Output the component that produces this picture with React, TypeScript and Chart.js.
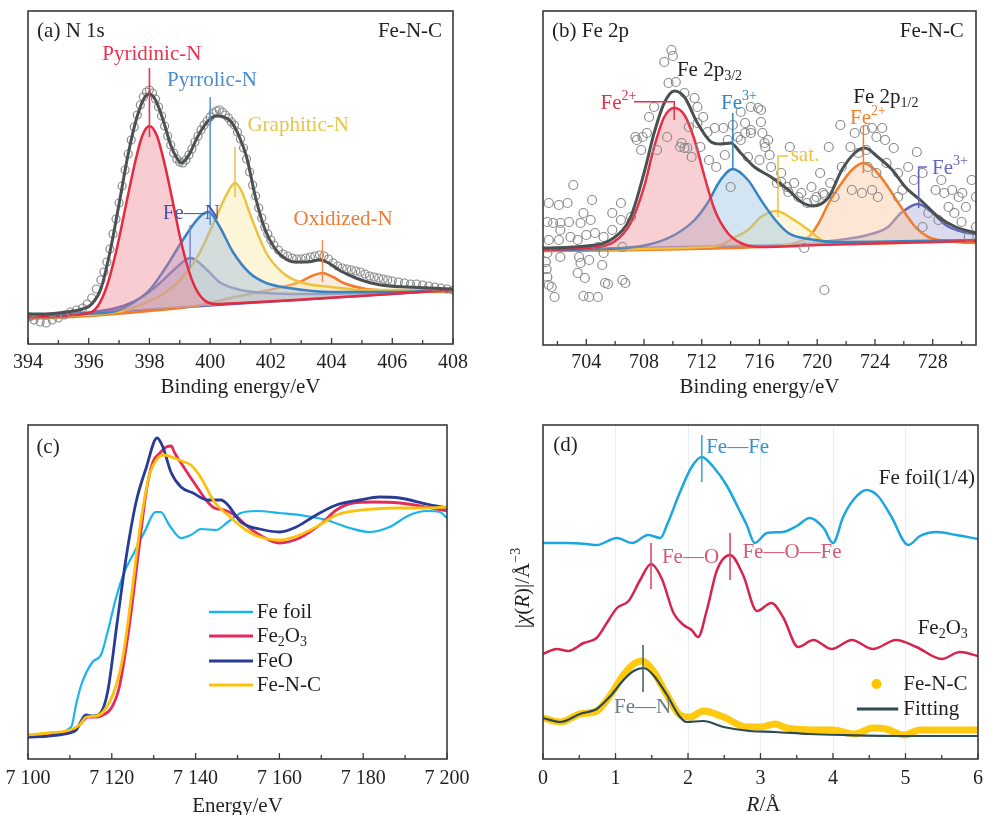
import React, { useEffect, useRef } from 'react';
import { Chart, registerables } from 'chart.js';

Chart.register(...registerables);

const FONT = "'Liberation Serif', 'Times New Roman', Times, serif";
const INK = '#231f20';
Chart.defaults.font.family = FONT;

type Pt = [number, number];

// ================= Panel (a): N 1s =================
const A_TICKS = [394, 396, 398, 400, 402, 404, 406, 408];
const A_TICK_LABELS = ['394', '396', '398', '400', '402', '404', '406', '408'];
const A_MINOR = [395, 397, 399, 401, 403, 405, 407];

const A_ENVELOPE: Pt[] = [[394,30],[394.5,30],[395,31],[395.5,33],[395.8,35],[396.1,40],[396.4,55],[396.7,92],[397.0,140],[397.3,190],[397.6,228],[397.85,247],[398.0,250],[398.2,244],[398.45,224],[398.7,199],[398.9,186],[399.05,181],[399.3,189],[399.6,208],[399.9,222],[400.2,228],[400.45,227],[400.7,222],[400.95,208],[401.2,187],[401.5,146],[401.8,115],[402.1,97],[402.4,87],[402.8,82],[403.2,82],[403.6,84],[403.9,81],[404.3,73],[404.8,66],[405.3,61],[405.9,58],[406.5,57],[407.2,56],[408,55]];

const A_DATA: Pt[] = [[394.05,27],[394.2,24],[394.4,22],[394.6,21],[394.8,24],[395.0,26],[395.2,29],[395.4,32],[395.6,34],[395.8,36],[395.95,40],[396.1,46],[396.25,55],[396.4,64],[396.5,72],[396.6,82],[396.7,95],[396.8,110],[396.9,125],[397.0,141],[397.1,158],[397.2,174],[397.3,190],[397.4,204],[397.5,217],[397.6,229],[397.7,239],[397.8,247],[397.9,252],[398.0,254],[398.1,251],[398.2,245],[398.3,237],[398.4,228],[398.5,218],[398.6,208],[398.7,199],[398.8,191],[398.9,185],[399.0,182],[399.1,181],[399.2,184],[399.3,189],[399.4,195],[399.5,202],[399.6,208],[399.7,214],[399.8,219],[399.9,223],[400.0,227],[400.1,231],[400.2,233],[400.3,234],[400.4,232],[400.5,229],[400.6,226],[400.7,222],[400.8,219],[400.9,212],[401.0,205],[401.1,196],[401.2,185],[401.3,172],[401.4,159],[401.5,148],[401.6,136],[401.7,126],[401.8,117],[401.9,110],[402.0,104],[402.1,99],[402.25,94],[402.4,90],[402.55,88],[402.7,86],[402.85,85],[403.0,85],[403.15,86],[403.3,87],[403.45,88],[403.6,89],[403.75,88],[403.9,85],[404.05,81],[404.2,78],[404.35,76],[404.5,75],[404.65,74],[404.8,73],[404.95,72],[405.1,70],[405.25,68],[405.4,67],[405.55,66],[405.7,65],[405.85,64],[406.0,63],[406.2,62],[406.4,61],[406.6,60],[406.8,60],[407.0,59],[407.2,58],[407.4,57],[407.6,56],[407.8,55],[408.0,54]];

const A_PYRIDINIC: Pt[] = [[394,27],[396.0,31],[396.3,38],[396.6,58],[396.9,92],[397.2,135],[397.5,178],[397.75,207],[398.0,218],[398.25,208],[398.5,180],[398.75,145],[399.0,108],[399.25,78],[399.5,57],[399.8,44],[400.2,40],[401,41],[408,54]];
const A_PYRROLIC: Pt[] = [[394,27],[396,30.5],[396.9,33],[397.5,42],[398.0,54],[398.55,77],[399.1,104],[399.65,127],[399.95,132],[400.3,118],[400.75,92],[401.3,71],[401.85,61],[402.6,56],[404.0,52],[406,52],[408,54]];
const A_GRAPHITIC: Pt[] = [[394,27],[396.9,32],[397.7,39],[398.55,52],[399.1,67],[399.65,91],[400.2,127],[400.55,150],[400.82,161],[401.05,152],[401.3,131],[401.85,91],[402.4,71],[402.95,62],[404.0,57],[405.15,54],[408,54]];
const A_FEN: Pt[] = [[394,27],[396.9,36],[397.7,46],[398.35,61],[398.8,74],[399.35,86],[399.9,74],[400.3,62],[401.0,54],[401.85,51],[403,50],[408,54]];
const A_OXIDIZED: Pt[] = [[394,25],[396,28],[398,33],[399.5,38],[400.8,47],[402.1,55],[402.95,62],[403.35,68],[403.7,71],[404.05,67],[404.4,61],[405.15,55],[406.3,53],[408,52]];
const A_BASELINE: Pt[] = [[394,27],[408,54]];

// ================= Panel (b): Fe 2p =================
const B_TICKS = [704, 708, 712, 716, 720, 724, 728];
const B_TICK_LABELS = ['704', '708', '712', '716', '720', '724', '728'];
const B_MINOR = [702, 706, 710, 714, 718, 722, 726, 730];

const B_ENVELOPE: Pt[] = [[701,97],[704,99],[705.9,107],[707.07,128],[708,172],[708.7,212],[709.4,242],[710.1,254],[710.8,248],[711.7,222],[712.65,203],[713.3,201],[714.0,202],[714.7,192],[715.65,178],[716.8,168],[718,155],[718.9,143],[719.7,139],[720.8,148],[721.7,175],[722.6,192],[723.3,197],[724.2,188],[725.2,175],[726.1,158],[727.3,143],[728.4,128],[729.6,118],[731,112]];

const B_DATA: Pt[] = [[701.2,83],[701.3,68],[701.25,76],[701.4,60],[701.8,48],[701.6,58],[701.3,92],[702.2,88],[701.4,105],[702.1,105],[702.9,108],[702.2,115],[701.3,123],[701.7,122],[702.2,122],[702.8,123],[701.4,142],[702.1,140],[702.7,142],[703.1,160],[703.4,72],[703.9,67],[704.2,48],[704.8,48],[703.5,88],[704.2,85],[703.4,105],[704.0,110],[704.6,112],[705.2,108],[703.6,122],[704.3,125],[703.8,132],[704.4,145],[705.8,115],[706.4,142],[706.4,125],[705.8,132],[707.1,128],[706.5,98],[704.8,98],[705.2,92],[705.3,62],[706.5,65],[703.8,49],[705.5,61],[706.7,62],[703.6,82],[705.1,80],[707.4,208],[707.9,208],[707.8,195],[707.5,205],[708.2,212],[708.35,228],[708.7,238],[709.4,283],[709.9,295],[710.0,289],[709.7,262],[710.2,263],[710.8,252],[711.5,247],[711.7,238],[712.1,228],[711.7,222],[711.1,218],[708.9,195],[709.6,208],[710.6,202],[710.5,198],[710.8,197],[711.3,188],[711.0,197],[711.9,198],[712.4,213],[712.9,217],[713.5,217],[712.5,185],[713.6,190],[713.0,178],[713.8,205],[714.5,208],[715.0,212],[715.4,215],[714.7,233],[715.4,238],[715.9,237],[714.15,220],[715.0,222],[714.0,158],[716.1,235],[716.2,212],[716.4,198],[716.6,205],[716.8,178],[717.2,162],[717.5,172],[717.9,158],[718.1,198],[718.4,162],[718.9,152],[719.6,158],[719.95,148],[720.5,150],[720.9,162],[720.2,172],[720.8,198],[721.6,220],[722.3,198],[721.7,178],[722.6,212],[722.85,192],[723.3,215],[723.8,217],[724.1,208],[724.5,217],[724.7,205],[725.3,197],[723.4,195],[723.5,178],[724.1,172],[724.8,182],[722.4,155],[723.1,152],[723.8,155],[724.2,148],[725.6,172],[725.9,155],[726.3,178],[726.9,193],[726.7,165],[725.6,148],[727.3,172],[728.2,155],[728.8,152],[729.1,138],[729.8,148],[729.5,132],[730.3,138],[730.7,165],[731.0,148],[730.0,123],[731.0,118],[730.5,108],[727.7,132],[727.3,118],[728.4,125],[730.05,152],[729.35,155],[728.6,165],[720.5,55],[716.1,223],[715.4,212],[716.35,202],[714.7,205],[716.0,185],[715.2,188],[716.7,190],[717.5,163],[718.0,153],[718.7,148],[719.3,142],[719.8,145],[719.1,97],[720.4,152],[721.2,148]];

const B_FE2_RED: Pt[] = [[701,95],[704,97],[705.9,103],[707.07,122],[708,158],[708.7,198],[709.4,228],[710.1,237],[710.8,230],[711.5,205],[712.2,168],[712.9,135],[713.8,112],[714.7,102],[716.1,98],[720,100],[731,104]];
const B_FE3_BLUE: Pt[] = [[701,95],[705.2,96],[708.2,100],[710.1,110],[711.5,125],[712.4,142],[713.3,165],[714.15,176],[715.2,165],[716.1,145],[717.1,125],[718,112],[719.4,106],[721.4,103],[731,105]];
const B_SAT: Pt[] = [[701,95],[712,98],[713.3,100],[714.2,107],[715.2,115],[716.1,128],[717.17,134],[718.4,125],[719.4,115],[720.3,105],[721.5,101],[731,104]];
const B_FE2_ORANGE: Pt[] = [[701,94],[716,98],[719.4,108],[720.1,122],[720.8,142],[721.5,158],[722.4,175],[723.2,182],[724.0,175],[724.9,158],[725.8,138],[726.8,118],[727.7,108],[729.6,103],[731,102]];
const B_FE3_PURPLE: Pt[] = [[701,95],[718,100],[721.5,105],[723.5,110],[724.9,118],[725.8,132],[727.0,141],[728,132],[728.9,120],[730.1,113],[731,111]];
const B_BASELINE: Pt[] = [[701,95],[731,104]];

// ================= Panel (c): XANES =================
const C_TICKS = [7100, 7120, 7140, 7160, 7180, 7200];
const C_TICK_LABELS = ['7 100', '7 120', '7 140', '7 160', '7 180', '7 200'];
const C_MINOR = [7110, 7130, 7150, 7170, 7190];

const C_FE_FOIL: Pt[] = [[7100,24],[7105,25],[7110.3,32],[7111.5,55],[7112.7,74],[7115.4,97],[7117.4,104],[7119,127],[7121,161],[7123,187],[7125.4,207],[7127.8,227],[7130.5,247],[7131.7,247],[7133.7,234],[7136.5,221],[7138.9,224],[7141.3,230],[7144.9,229],[7147.7,237],[7150.8,246],[7154.5,248],[7160.1,246],[7166.4,243],[7171.2,239],[7176.8,231],[7181.6,227],[7186.3,232],[7191.1,244],[7195.1,248],[7198.3,247],[7200,241]];
const C_FE2O3: Pt[] = [[7100,22],[7105,25],[7110,27],[7112.3,34],[7114.3,42],[7116.3,42],[7117.9,44],[7119.9,51],[7121.8,72],[7124.2,134],[7126.2,201],[7128.2,267],[7129.8,297],[7131.5,306],[7133,312],[7134.2,313],[7134.9,307],[7137.3,291],[7140.5,271],[7142.9,257],[7144.5,251],[7146.9,249],[7149.3,244],[7152,234],[7155.3,224],[7160.1,216],[7164.8,221],[7169.6,234],[7173.6,249],[7177.6,256],[7182.3,257],[7188.7,256],[7195.1,252],[7200,248]];
const C_FEO: Pt[] = [[7100,22],[7105,23],[7110,26],[7111.5,29],[7113.8,44],[7115.5,43],[7117.1,45],[7119,67],[7121.2,134],[7123.4,201],[7125.8,257],[7128.2,291],[7130.8,321],[7132.2,312],[7134.1,287],[7136.5,272],[7139.4,266],[7142.9,259],[7146.1,259],[7147.7,254],[7150.8,237],[7155.3,230],[7160.1,227],[7164,232],[7168.8,244],[7173.6,254],[7179.2,259],[7183.9,262],[7188.7,261],[7195.1,255],[7200,251]];
const C_FENC: Pt[] = [[7100,24],[7105,26],[7110,29],[7112.3,34],[7113.9,42],[7116.3,43],[7117.9,47],[7120.5,67],[7122.6,101],[7124.8,167],[7126.8,234],[7129,284],[7131,301],[7132.5,304],[7134.9,301],[7137.3,297],[7138.9,294],[7141.3,281],[7144.5,257],[7147.7,244],[7152,229],[7155.3,222],[7160.1,219],[7164.8,224],[7169.6,234],[7173.6,244],[7177.6,248],[7182.3,250],[7188.7,251],[7195.1,251],[7200,252]];

// ================= Panel (d): FT-EXAFS =================
const D_TICKS = [0, 1, 2, 3, 4, 5, 6];
const D_TICK_LABELS = ['0', '1', '2', '3', '4', '5', '6'];
const D_MINOR = [0.5, 1.5, 2.5, 3.5, 4.5, 5.5];

const D_FE_FOIL: Pt[] = [[0,216],[0.33,216],[0.6,215],[0.74,214],[1.02,221],[1.23,216],[1.45,224],[1.62,221],[1.71,234],[1.89,267],[2.05,292],[2.19,302],[2.35,292],[2.53,274],[2.7,250],[2.81,234],[2.92,216],[3.09,226],[3.31,227],[3.5,233],[3.68,241],[3.87,231],[4.0,216],[4.14,242],[4.28,259],[4.46,269],[4.62,263],[4.8,243],[5.04,214],[5.2,223],[5.43,227],[5.7,224],[6,220]];
const D_FE2O3: Pt[] = [[0,105],[0.19,110],[0.35,108],[0.56,116],[0.74,121],[0.88,136],[1.02,151],[1.18,158],[1.34,179],[1.49,195],[1.64,180],[1.8,146],[1.94,134],[2.05,129],[2.14,122],[2.26,149],[2.4,189],[2.58,204],[2.76,184],[2.95,148],[3.15,156],[3.31,142],[3.52,112],[3.73,119],[3.98,110],[4.26,119],[4.55,110],[4.87,119],[5.15,112],[5.5,100],[5.75,107],[6,103]];
const D_FENC: Pt[] = [[0,41],[0.24,37],[0.51,45],[0.74,48],[0.93,64],[1.11,84],[1.25,95],[1.36,98],[1.52,88],[1.71,64],[1.89,44],[2.03,42],[2.21,48],[2.49,42],[2.81,32],[3.0,32],[3.2,35],[3.36,31],[3.73,29],[4.0,29],[4.3,25],[4.55,31],[4.73,30],[4.99,24],[5.2,29],[5.56,29],[6,29]];
const D_FIT: Pt[] = [[0,41],[0.24,37],[0.51,45],[0.74,50],[0.93,63],[1.11,79],[1.25,88],[1.39,91],[1.52,84],[1.71,64],[1.89,42],[1.98,37],[2.21,38],[2.49,32],[2.85,28],[3.2,27],[3.67,25],[4.14,24],[5.05,23],[6,23]];

// ================= helpers =================
type Part = { s: string; sub?: boolean; sup?: boolean; it?: boolean };
const T = (s: string): Part[] => [{ s }];

function drawRich(ctx: CanvasRenderingContext2D, parts: Part[], x: number, y: number, size: number, color: string, align: string) {
  const small = Math.round(size * 0.66);
  const fontOf = (p: Part) => `${p.it ? 'italic ' : ''}${p.sub || p.sup ? small : size}px ${FONT}`;
  const widths = parts.map((p) => { ctx.font = fontOf(p); return ctx.measureText(p.s).width; });
  const total = widths.reduce((a, b) => a + b, 0);
  let cx = align === 'center' ? x - total / 2 : align === 'right' ? x - total : x;
  ctx.fillStyle = color;
  ctx.textAlign = 'left';
  ctx.textBaseline = 'middle';
  parts.forEach((p, i) => {
    ctx.font = fontOf(p);
    const dy = p.sub ? size * 0.3 : p.sup ? -size * 0.3 : 0;
    ctx.fillText(p.s, cx, y + dy);
    cx += widths[i];
  });
}

function overlay(items: any[], major: number[], minor: number[], extra?: (chart: any) => void) {
  return {
    id: 'overlay',
    afterDraw(chart: any) {
      const { ctx, chartArea: ca } = chart;
      const xs = chart.scales.x, ys = chart.scales.y;
      const X = (v: number) => xs.getPixelForValue(v);
      const Y = (v: number) => ys.getPixelForValue(v);
      ctx.save();
      for (const it of items) {
        if (it.k === 'line') {
          ctx.beginPath();
          ctx.strokeStyle = it.color;
          ctx.lineWidth = it.w ?? 1.5;
          it.pts.forEach(([x, y]: Pt, i: number) => (i ? ctx.lineTo(X(x), Y(y)) : ctx.moveTo(X(x), Y(y))));
          ctx.stroke();
        } else if (it.k === 'dot') {
          ctx.beginPath();
          ctx.fillStyle = it.color;
          ctx.arc(X(it.x), Y(it.y), it.r, 0, Math.PI * 2);
          ctx.fill();
        } else {
          drawRich(ctx, it.parts, X(it.x), Y(it.y), it.size ?? 21, it.color, it.align ?? 'left');
        }
      }
      ctx.strokeStyle = '#3a3a3a';
      ctx.lineWidth = 1.6;
      ctx.strokeRect(ca.left, ca.top, ca.right - ca.left, ca.bottom - ca.top);
      ctx.lineWidth = 1.3;
      ctx.beginPath();
      for (const v of major) { const x = X(v); ctx.moveTo(x, ca.bottom); ctx.lineTo(x, ca.bottom - 6); }
      for (const v of minor) { const x = X(v); ctx.moveTo(x, ca.bottom); ctx.lineTo(x, ca.bottom - 4); }
      ctx.stroke();
      if (extra) extra(chart);
      ctx.restore();
    },
  };
}

const toXY = (a: Pt[]) => a.map(([x, y]) => ({ x, y }));
const line = (data: Pt[], color: string, width: number, extra: any = {}) => ({
  data: toXY(data), borderColor: color, borderWidth: width, pointRadius: 0,
  cubicInterpolationMode: 'monotone', fill: false, borderJoinStyle: 'round', ...extra,
});
const circles = (data: Pt[], color: string, r: number) => ({
  data: toXY(data), showLine: false, pointRadius: r, pointBorderColor: color,
  pointBackgroundColor: 'rgba(0,0,0,0)', pointBorderWidth: 1.2, borderColor: color, backgroundColor: 'rgba(0,0,0,0)',
});

function makeOptions(c: any) {
  return {
    responsive: false,
    maintainAspectRatio: false,
    animation: false,
    devicePixelRatio: 1,
    events: [],
    layout: { padding: { left: c.padL, top: c.padT, right: c.padR, bottom: 0 } },
    plugins: { legend: { display: false }, tooltip: { enabled: false } },
    scales: {
      x: {
        type: 'linear', min: c.xmin, max: c.xmax,
        afterBuildTicks: (axis: any) => { axis.ticks = c.ticks.map((v: number) => ({ value: v })); },
        afterFit: (axis: any) => { axis.height = c.xHeight; },
        grid: { display: !!c.grid, drawTicks: false, color: 'rgba(175,208,225,0.35)', lineWidth: 1 },
        border: { display: false },
        ticks: {
          autoSkip: false, maxRotation: 0, minRotation: 0, padding: c.tickPad, color: INK,
          font: { family: FONT, size: 20 }, callback: (_v: any, i: number) => c.labels[i],
        },
        title: c.title
          ? { display: true, text: c.title, color: INK, font: { family: FONT, size: 21 }, padding: { top: 0, bottom: c.titlePad } }
          : { display: false },
      },
      y: { type: 'linear', min: 0, max: c.ymax, display: false },
    },
  };
}

// ================= annotations =================
const A_ITEMS = [
  { k: 'text', x: 394.3, y: 313, parts: T('(a) N 1s'), color: INK },
  { k: 'text', x: 407.64, y: 313, parts: T('Fe-N-C'), color: INK, align: 'right' },
  { k: 'line', pts: [[398, 276], [398, 207]], color: '#e8344e', w: 1.6 },
  { k: 'line', pts: [[400, 247], [400, 119]], color: '#4a8cd0', w: 1.4 },
  { k: 'line', pts: [[400.82, 197], [400.82, 147]], color: '#e9c44a', w: 1.6 },
  { k: 'line', pts: [[399.34, 119], [399.34, 76]], color: '#7a7ec4', w: 1.4 },
  { k: 'line', pts: [[403.7, 104], [403.7, 62]], color: '#f48a4a', w: 1.4 },
  { k: 'text', x: 398.08, y: 290, parts: T('Pyridinic-N'), color: '#e8344e', align: 'center' },
  { k: 'text', x: 400.06, y: 264, parts: T('Pyrrolic-N'), color: '#4a8cd0', align: 'center' },
  { k: 'text', x: 402.9, y: 219, parts: T('Graphitic-N'), color: '#e9c44a', align: 'center' },
  { k: 'text', x: 404.38, y: 125, parts: T('Oxidized-N'), color: '#f27a35', align: 'center' },
  { k: 'text', x: 398.44, y: 131, parts: T('Fe\u2014N'), color: '#4b52b0' },
];

const B_ITEMS = [
  { k: 'text', x: 701.63, y: 314, parts: T('(b) Fe 2p'), color: INK },
  { k: 'text', x: 730.16, y: 314, parts: T('Fe-N-C'), color: INK, align: 'right' },
  { k: 'text', x: 710.28, y: 275, parts: [{ s: 'Fe 2p' }, { s: '3/2', sub: true }], color: INK },
  { k: 'text', x: 722.5, y: 248, parts: [{ s: 'Fe 2p' }, { s: '1/2', sub: true }], color: INK },
  { k: 'line', pts: [[707.3, 243.3], [710.09, 243.3], [710.09, 225]], color: '#e63046', w: 1.5 },
  { k: 'text', x: 704.99, y: 242, parts: [{ s: 'Fe' }, { s: '2+', sup: true }], color: '#e63046' },
  { k: 'line', pts: [[714.15, 232], [714.15, 177]], color: '#3585c2', w: 1.5 },
  { k: 'text', x: 713.34, y: 242, parts: [{ s: 'Fe' }, { s: '3+', sup: true }], color: '#3585c2' },
  { k: 'line', pts: [[723.2, 219], [723.2, 172]], color: '#f47d2a', w: 1.5 },
  { k: 'text', x: 722.27, y: 227, parts: [{ s: 'Fe' }, { s: '2+', sup: true }], color: '#f47d2a' },
  { k: 'line', pts: [[717.98, 189], [717.28, 189], [717.28, 128]], color: '#f2c135', w: 1.5 },
  { k: 'text', x: 718.16, y: 190, parts: T('sat.'), color: '#f2c135' },
  { k: 'line', pts: [[727.6, 178], [727.03, 178], [727.03, 137]], color: '#6466bb', w: 1.5 },
  { k: 'text', x: 727.95, y: 177, parts: [{ s: 'Fe' }, { s: '3+', sup: true }], color: '#6466bb' },
];

const C_COLORS = { foil: '#1ab4ec', fe2o3: '#e62a5c', feo: '#283c96', fenc: '#fcc10d' };
const C_ITEMS = [
  { k: 'text', x: 7102, y: 312, parts: T('(c)'), color: INK },
  { k: 'line', pts: [[7143.2, 147], [7153.7, 147]], color: C_COLORS.foil, w: 2.5 },
  { k: 'line', pts: [[7143.2, 123], [7153.7, 123]], color: C_COLORS.fe2o3, w: 3 },
  { k: 'line', pts: [[7143.2, 98], [7153.7, 98]], color: C_COLORS.feo, w: 3 },
  { k: 'line', pts: [[7143.2, 74], [7153.7, 74]], color: C_COLORS.fenc, w: 3 },
  { k: 'text', x: 7154.6, y: 147, parts: T('Fe foil'), color: INK },
  { k: 'text', x: 7154.6, y: 123, parts: [{ s: 'Fe' }, { s: '2', sub: true }, { s: 'O' }, { s: '3', sub: true }], color: INK },
  { k: 'text', x: 7154.6, y: 98, parts: T('FeO'), color: INK },
  { k: 'text', x: 7154.6, y: 74, parts: T('Fe-N-C'), color: INK },
];

const D_ITEMS = [
  { k: 'text', x: 0.14, y: 314, parts: T('(d)'), color: INK },
  { k: 'line', pts: [[2.19, 324], [2.19, 277]], color: '#3aa6d8', w: 1.6 },
  { k: 'text', x: 2.25, y: 312, parts: T('Fe\u2014Fe'), color: '#3a8fc8' },
  { k: 'text', x: 5.96, y: 281, parts: T('Fe foil(1/4)'), color: INK, align: 'right' },
  { k: 'line', pts: [[1.49, 216], [1.49, 170]], color: '#d84a6a', w: 1.6 },
  { k: 'text', x: 1.64, y: 202, parts: T('Fe\u2014O'), color: '#d65a72' },
  { k: 'line', pts: [[2.58, 226], [2.58, 179]], color: '#d84a6a', w: 1.6 },
  { k: 'text', x: 2.75, y: 207, parts: T('Fe\u2014O\u2014Fe'), color: '#d65a72' },
  { k: 'text', x: 5.86, y: 131, parts: [{ s: 'Fe' }, { s: '2', sub: true }, { s: 'O' }, { s: '3', sub: true }], color: INK, align: 'right' },
  { k: 'line', pts: [[1.38, 114], [1.38, 67]], color: '#4d6066', w: 1.6 },
  { k: 'text', x: 0.98, y: 52, parts: T('Fe\u2014N'), color: '#6d7c82' },
  { k: 'dot', x: 4.6, y: 75, r: 5, color: '#ffc400' },
  { k: 'text', x: 4.97, y: 75, parts: T('Fe-N-C'), color: INK },
  { k: 'line', pts: [[4.33, 50], [4.9, 50]], color: '#2c4a52', w: 3 },
  { k: 'text', x: 4.97, y: 50, parts: T('Fitting'), color: INK },
];

const D_YTITLE: Part[] = [{ s: '|' }, { s: '\u03c7', it: true }, { s: '(' }, { s: 'R', it: true }, { s: ')|/\u00c5' }, { s: '\u22123', sup: true }];

// ================= chart builders =================
const buildA = () => ({
  type: 'line',
  data: {
    datasets: [
      line(A_ENVELOPE, '#4b5153', 3),
      circles(A_DATA, '#8a8a8a', 4),
      line(A_PYRIDINIC, '#e52941', 2.5, { fill: 7, backgroundColor: 'rgba(238,120,136,0.38)' }),
      line(A_PYRROLIC, '#3b82c4', 2.5, { fill: 7, backgroundColor: 'rgba(145,182,226,0.38)' }),
      line(A_GRAPHITIC, '#ebc43e', 2.5, { fill: 7, backgroundColor: 'rgba(250,230,160,0.42)' }),
      line(A_FEN, '#5a5fb6', 2.5, { fill: 7, backgroundColor: 'rgba(160,160,215,0.32)' }),
      line(A_OXIDIZED, '#f47b2c', 2.5, { fill: 7, backgroundColor: 'rgba(248,190,150,0.3)' }),
      line(A_BASELINE, '#6266b8', 2.5),
    ],
  },
  options: makeOptions({ xmin: 394, xmax: 408, ymax: 333, padL: 28, padT: 11, padR: 40, xHeight: 66, tickPad: 6.5, ticks: A_TICKS, labels: A_TICK_LABELS, title: 'Binding energy/eV', titlePad: 9.5 }),
  plugins: [overlay(A_ITEMS, A_TICKS, A_MINOR)],
});

const buildB = () => ({
  type: 'line',
  data: {
    datasets: [
      line(B_ENVELOPE, '#4b5153', 3),
      circles(B_DATA, '#8c8c8c', 4.5),
      line(B_FE2_RED, '#e63046', 2.5, { fill: 7, backgroundColor: 'rgba(236,130,140,0.38)' }),
      line(B_FE3_BLUE, '#3585c2', 2.5, { fill: 7, backgroundColor: 'rgba(150,190,225,0.42)' }),
      line(B_SAT, '#f2c135', 2.5, { fill: 7, backgroundColor: 'rgba(250,236,180,0.45)' }),
      line(B_FE2_ORANGE, '#f47d2a', 2.5, { fill: 7, backgroundColor: 'rgba(250,200,160,0.45)' }),
      line(B_FE3_PURPLE, '#6466bb', 2.5, { fill: 7, backgroundColor: 'rgba(175,175,220,0.45)' }),
      line(B_BASELINE, '#6466bb', 2.5),
    ],
  },
  options: makeOptions({ xmin: 701, xmax: 731, ymax: 334, padL: 50, padT: 11, padR: 10, xHeight: 65, tickPad: 5.75, ticks: B_TICKS, labels: B_TICK_LABELS, title: 'Binding energy/eV', titlePad: 9.5 }),
  plugins: [overlay(B_ITEMS, B_TICKS, B_MINOR)],
});

const buildC = () => ({
  type: 'line',
  data: {
    datasets: [
      line(C_FE_FOIL, C_COLORS.foil, 2.2, { order: 4 }),
      line(C_FE2O3, C_COLORS.fe2o3, 2.8, { order: 3 }),
      line(C_FEO, C_COLORS.feo, 2.8, { order: 2 }),
      line(C_FENC, C_COLORS.fenc, 2.8, { order: 1 }),
    ],
  },
  options: makeOptions({ xmin: 7100, xmax: 7200, ymax: 334, padL: 38, padT: 15, padR: 46, xHeight: 71, tickPad: 7.4, ticks: C_TICKS, labels: C_TICK_LABELS, title: 'Energy/eV', titlePad: 11.4 }),
  plugins: [overlay(C_ITEMS, C_TICKS, C_MINOR)],
});

const buildD = () => ({
  type: 'line',
  data: {
    datasets: [
      line(D_FE_FOIL, '#1ba6df', 2.5, { order: 4 }),
      line(D_FE2O3, '#d6244c', 2.5, { order: 3 }),
      line(D_FENC, '#ffc90d', 7, { order: 2, borderCapStyle: 'round' }),
      line(D_FIT, '#2c4a52', 2.2, { order: 1 }),
    ],
  },
  options: makeOptions({ xmin: 0, xmax: 6, ymax: 334, padL: 50, padT: 15, padR: 15, xHeight: 71, tickPad: 7.4, ticks: D_TICKS, labels: D_TICK_LABELS, grid: true }),
  plugins: [overlay(D_ITEMS, D_TICKS, D_MINOR, (chart: any) => {
    const { ctx, chartArea: ca } = chart;
    drawRich(ctx, [{ s: 'R', it: true }, { s: '/\u00c5' }], (ca.left + ca.right) / 2 + 3, ca.bottom + 46.5, 21, INK, 'center');
    ctx.save();
    ctx.translate(ca.left - 20, (ca.top + ca.bottom) / 2 - 4);
    ctx.rotate(-Math.PI / 2);
    drawRich(ctx, D_YTITLE, 0, 0, 21, INK, 'center');
    ctx.restore();
  })],
});

function ChartPanel({ left, top, width, height, build }: any) {
  const ref = useRef<HTMLCanvasElement>(null);
  useEffect(() => {
    const chart = new Chart(ref.current as HTMLCanvasElement, build() as any);
    return () => chart.destroy();
  }, [build]);
  return (
    <canvas
      ref={ref}
      width={width}
      height={height}
      style={{ position: 'absolute', left, top, width, height, display: 'block' }}
    />
  );
}

export default function App() {
  return (
    <div style={{ position: 'absolute', left: 0, top: 0, width: 986, height: 815, overflow: 'hidden', background: '#ffffff' }}>
      <ChartPanel left={0} top={0} width={493} height={410} build={buildA} />
      <ChartPanel left={493} top={0} width={493} height={410} build={buildB} />
      <ChartPanel left={-10} top={410} width={503} height={420} build={buildC} />
      <ChartPanel left={493} top={410} width={500} height={420} build={buildD} />
    </div>
  );
}
